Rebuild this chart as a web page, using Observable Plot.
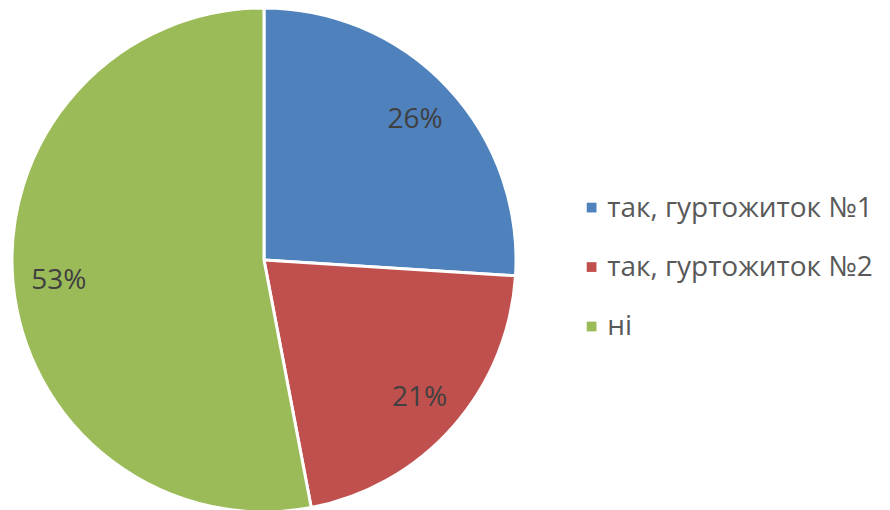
<!DOCTYPE html>
<html>
<head>
<meta charset="utf-8">
<script src="https://cdn.jsdelivr.net/npm/d3@7"></script>
<script src="https://cdn.jsdelivr.net/npm/@observablehq/plot@0.6"></script>
<style>
  html, body { margin: 0; padding: 0; background: #fff; }
</style>
</head>
<body>
<div id="chart"></div>
<script>
const categories = ["так, гуртожиток №1", "так, гуртожиток №2", "ні"];
const values = [26, 21, 53];
const labels = ["26%", "21%", "53%"];
const colors = ["#4F81BD", "#C0504D", "#9BBB59"];

const pie = d3.pie().sort(null).value(d => d.value)(
  categories.map((c, i) => ({category: c, value: values[i], label: labels[i], color: colors[i]}))
);
const labelR = 0.82;
const slices = pie.map(p => {
  const mid = (p.startAngle + p.endAngle) / 2;
  return {...p.data, startAngle: p.startAngle, endAngle: p.endAngle,
    lx: labelR * Math.sin(mid), ly: labelR * Math.cos(mid)};
});
const legend = categories.map((c, i) => ({category: c, color: colors[i], row: i}));

function pieMark(index, scales, values, dimensions, context) {
  const cx = scales.x(0), cy = scales.y(0);
  const r = scales.x(1) - cx;
  const g = d3.create("svg:g");
  const arc = d3.arc().innerRadius(0).outerRadius(r);
  g.selectAll("path").data(slices).join("path")
    .attr("transform", `translate(${cx},${cy})`)
    .attr("d", d => arc(d))
    .attr("fill", d => d.color)
    .attr("stroke", "#fff")
    .attr("stroke-width", 3)
    .attr("stroke-linejoin", "round");
  return g.node();
}

const legendY = d => 0.21 - d.row * 0.236;

const chart = Plot.plot({
  width: 890,
  height: 510,
  margin: 0,
  x: {domain: [-1, 1], range: [12, 516], axis: null},
  y: {domain: [-1, 1], range: [512, 8], axis: null},
  style: {background: "#fff"},
  marks: [
    pieMark,
    Plot.text(slices, {x: "lx", y: "ly", text: "label", fill: "#404040",
      fontSize: 28, fontFamily: "Open Sans", textAnchor: "middle"}),
    Plot.dot(legend, {x: 1.298, y: legendY, symbol: "square", r: 5.5, fill: "color", stroke: null}),
    Plot.text(legend, {x: 1.36, y: legendY, text: "category", fill: "#595959",
      fontSize: 28, fontFamily: "Open Sans", textAnchor: "start"})
  ]
});
document.getElementById("chart").appendChild(chart);
</script>
</body>
</html>
